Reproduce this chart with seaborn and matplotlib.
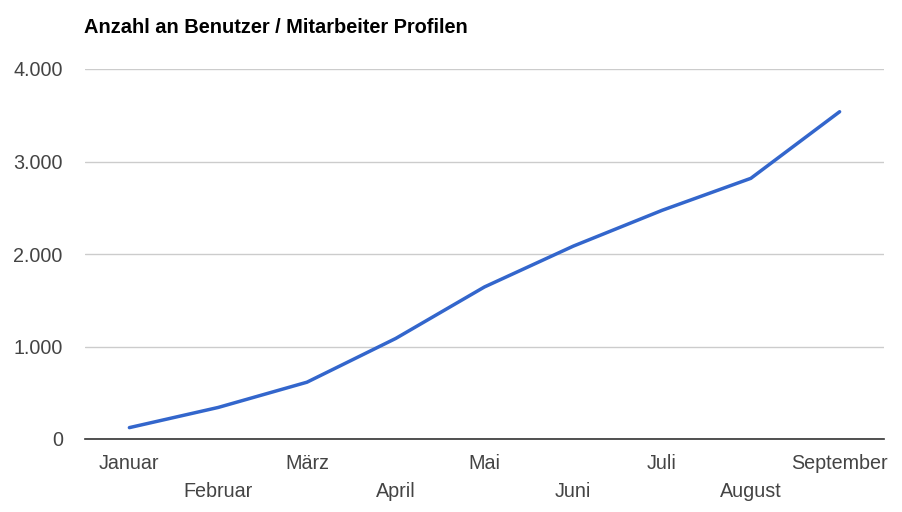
import matplotlib
matplotlib.use("Agg")
import matplotlib.pyplot as plt
import matplotlib.ticker as mticker
import pandas as pd
import seaborn as sns

# monthly counts
months = ["Januar", "Februar", "März", "April", "Mai", "Juni",
          "Juli", "August", "September"]
profiles = [123, 341, 614, 1087, 1644, 2085, 2472, 2818, 3538]
y_ticks = [0, 1000, 2000, 3000, 4000]

df = pd.DataFrame({"monat": months, "profile": profiles})

sns.set_style("white")
plt.rcParams["font.family"] = ["Liberation Sans", "DejaVu Sans"]

fig = plt.figure(figsize=(9.03, 5.12), dpi=100)
ax = fig.add_axes([85 / 903, 1 - 439 / 512, (884 - 85) / 903, (439 - 69) / 512])

sns.lineplot(data=df, x="monat", y="profile", ax=ax, color="#3366CC",
             linewidth=2.5, sort=False)

ax.set_xlim(-0.5, len(months) - 0.5)
ax.set_ylim(0, 4000)
ax.set_yticks(y_ticks)
ax.yaxis.set_major_formatter(
    mticker.FuncFormatter(lambda v, p: f"{int(v):,}".replace(",", ".")))
ax.grid(axis="y", color="#cccccc", linewidth=1)
ax.set_axisbelow(True)

# staggered month labels, like the original
ax.set_xticks(range(len(months)))
ax.set_xticklabels([m if i % 2 == 0 else "\n" + m for i, m in enumerate(months)],
                   linespacing=1.55)
ax.tick_params(axis="both", length=0, labelsize=14.2, labelcolor="#444444")
ax.tick_params(axis="x", pad=11)
ax.tick_params(axis="y", pad=16)

for s in ["top", "right", "left"]:
    ax.spines[s].set_visible(False)
ax.spines["bottom"].set_color("#333333")
ax.spines["bottom"].set_linewidth(1.2)

ax.set_xlabel("")
ax.set_ylabel("")
fig.text(84 / 903, 1 - 33 / 512, "Anzahl an Benutzer / Mitarbeiter Profilen",
         fontsize=14.4, fontweight="bold", color="black", ha="left", va="baseline")

fig.savefig("out.png", dpi=100, facecolor="white")
